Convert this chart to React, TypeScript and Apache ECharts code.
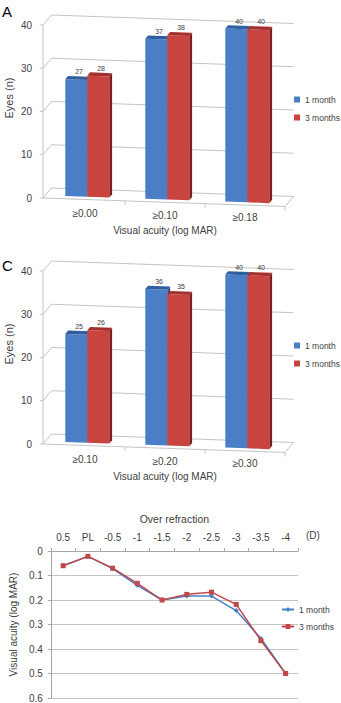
import React, { useEffect, useRef } from 'react';
import * as echarts from 'echarts';

// ---------- data ----------
const CATS_A = ['≥0.00', '≥0.10', '≥0.18'];
const CATS_C = ['≥0.10', '≥0.20', '≥0.30'];
const A_1M = [27, 37, 40];
const A_3M = [28, 38, 40];
const C_1M = [25, 36, 40];
const C_3M = [26, 35, 40];
const EYES_TICKS = [0, 10, 20, 30, 40];
const REFRACTION = ['0.5', 'PL', '-0.5', '-1', '-1.5', '-2', '-2.5', '-3', '-3.5', '-4'];
const VA_1M = [0.06, 0.022, 0.072, 0.14, 0.2, 0.184, 0.184, 0.243, 0.357, 0.5];
const VA_3M = [0.06, 0.022, 0.07, 0.132, 0.2, 0.177, 0.168, 0.218, 0.366, 0.5];
const SERIES_NAMES = ['1 month', '3 months'];
const LINE_KEYS = ['L1', 'L3'];

// ---------- style ----------
const FONT = '"Liberation Sans", Arial, sans-serif';
const TXT = '#404040';
const GRIDC = '#c4c4c4';
const BLUE = { front: '#4a7ec6', top: '#2f5f9f', side: '#2a4f85' };
const RED = { front: '#c9443f', top: '#a3302d', side: '#7a1f1d' };
const LINE_BLUE = '#4a7ec6';
const LINE_RED = '#c0474a';

// 3D geometry
const FL = 43;
const DX = 8.5;
const DY = 10;
const SLOPE = 0.035;
const D0 = 0.27;
const D1 = 0.6;
const BAR_W = 22;

const P = (x: number, y: number, d: number): number[] => [x + d * DX, y + SLOPE * (x - FL) - d * DY];

const gridRender = (params: any, api: any) => {
  const v = api.value(1);
  const y = api.coord([0, v])[1];
  const cs = params.coordSys;
  const xr = cs.x + cs.width;
  const ls = { stroke: GRIDC, lineWidth: 1, fill: 'none' };
  const children: any[] = [
    { type: 'polyline', shape: { points: [[FL, y], P(FL, y, 1), P(xr, y, 1)] }, style: ls },
    { type: 'line', shape: { x1: FL - 3, y1: y, x2: FL, y2: y }, style: ls },
  ];
  if (v === 0) {
    children.push({ type: 'line', shape: { x1: FL, y1: cs.y - 1, x2: FL, y2: y }, style: ls });
    children.push({ type: 'polyline', shape: { points: [[FL, y], P(xr, y, 0), P(xr, y, 1)] }, style: ls });
    for (let k = 1; k <= 3; k++) {
      const x = cs.x + (k * cs.width) / 3;
      const p = P(x, y, 0);
      children.push({ type: 'line', shape: { x1: p[0], y1: p[1], x2: p[0], y2: p[1] + 4 }, style: ls });
    }
  }
  return { type: 'group', children };
};

const barRender = (side: number, col: any) => (params: any, api: any) => {
  const idx = api.value(0);
  const v = api.value(1);
  const top = api.coord([idx, v]);
  const bot = api.coord([idx, 0]);
  const cx = top[0];
  const xL = side < 0 ? cx - BAR_W : cx;
  const xR = xL + BAR_W;
  const f = [P(xL, bot[1], D0), P(xR, bot[1], D0), P(xR, top[1], D0), P(xL, top[1], D0)];
  const t = [P(xL, top[1], D0), P(xR, top[1], D0), P(xR, top[1], D1), P(xL, top[1], D1)];
  const s = [P(xR, bot[1], D0), P(xR, bot[1], D1), P(xR, top[1], D1), P(xR, top[1], D0)];
  const lab = P((xL + xR) / 2, top[1], D1);
  return {
    type: 'group',
    children: [
      { type: 'polygon', shape: { points: s }, style: { fill: col.side } },
      { type: 'polygon', shape: { points: f }, style: { fill: col.front } },
      { type: 'polygon', shape: { points: t }, style: { fill: col.top } },
      {
        type: 'text',
        x: lab[0],
        y: lab[1] - 1,
        style: { text: String(v), fontSize: 7, fill: TXT, align: 'center', verticalAlign: 'bottom', fontFamily: FONT },
      },
    ],
  };
};

const catAxis = (gridIndex: number, cats: string[]) => ({
  type: 'category',
  gridIndex,
  data: cats,
  axisLine: { show: false },
  axisTick: { show: false },
  axisLabel: {
    margin: 10,
    interval: 0,
    formatter: (val: string, i: number) => `{p${i}|${val}}`,
    rich: {
      p0: { fontSize: 10, color: TXT, fontFamily: FONT, padding: [0, 0, 0, 0] },
      p1: { fontSize: 10, color: TXT, fontFamily: FONT, padding: [2, 0, 0, 0] },
      p2: { fontSize: 10, color: TXT, fontFamily: FONT, padding: [4, 0, 0, 0] },
    },
  },
  name: 'Visual acuity (log MAR)',
  nameLocation: 'middle',
  nameGap: 27,
  nameTextStyle: { fontSize: 10, color: TXT, fontFamily: FONT },
});

const eyesAxis = (gridIndex: number) => ({
  type: 'value',
  gridIndex,
  min: 0,
  max: 40,
  interval: 10,
  axisLine: { show: false },
  axisTick: { show: false },
  splitLine: { show: false },
  axisLabel: { margin: 13, fontSize: 10, color: TXT, fontFamily: FONT },
});

const barSeries = (gridIndex: number, v1: number[], v3: number[]) => [
  {
    type: 'custom',
    xAxisIndex: gridIndex,
    yAxisIndex: gridIndex,
    silent: true,
    z: 1,
    renderItem: gridRender,
    data: EYES_TICKS.map((v) => [0, v]),
    encode: { x: 0, y: 1 },
  },
  {
    type: 'custom',
    name: SERIES_NAMES[0],
    xAxisIndex: gridIndex,
    yAxisIndex: gridIndex,
    z: 2,
    itemStyle: { color: BLUE.front },
    renderItem: barRender(-1, BLUE),
    data: v1.map((v, i) => [i, v]),
    encode: { x: 0, y: 1 },
  },
  {
    type: 'custom',
    name: SERIES_NAMES[1],
    xAxisIndex: gridIndex,
    yAxisIndex: gridIndex,
    z: 3,
    itemStyle: { color: RED.front },
    renderItem: barRender(1, RED),
    data: v3.map((v, i) => [i, v]),
    encode: { x: 0, y: 1 },
  },
];

const barLegend = (top: number) => ({
  data: SERIES_NAMES,
  orient: 'vertical',
  left: 294,
  top,
  padding: 0,
  icon: 'rect',
  itemWidth: 6,
  itemHeight: 6,
  itemGap: 9,
  textStyle: { fontSize: 8.5, color: TXT, fontFamily: FONT },
});

const eyesTitle = (y: number) => ({
  type: 'text',
  x: 9,
  y,
  rotation: Math.PI / 2,
  style: { text: 'Eyes (n)', fontSize: 11, fill: TXT, fontFamily: FONT, align: 'center', verticalAlign: 'middle' },
});

export default function App() {
  const ref = useRef<HTMLDivElement>(null);
  useEffect(() => {
    if (!ref.current) return;
    const chart = echarts.init(ref.current, null, { renderer: 'svg' });
    const lineNameMap: Record<string, string> = { L1: SERIES_NAMES[0], L3: SERIES_NAMES[1] };
    chart.setOption({
      animation: false,
      backgroundColor: '#ffffff',
      textStyle: { fontFamily: FONT },
      title: [
        { text: 'A', left: 2, top: 4, padding: 0, textStyle: { fontSize: 15, fontWeight: 'normal', color: '#000', fontFamily: FONT } },
        { text: 'C', left: 2, top: 258, padding: 0, textStyle: { fontSize: 15, fontWeight: 'normal', color: '#000', fontFamily: FONT } },
      ],
      legend: [
        barLegend(95),
        barLegend(341),
        {
          data: LINE_KEYS,
          formatter: (n: string) => lineNameMap[n],
          orient: 'vertical',
          left: 281,
          top: 605,
          padding: 0,
          itemWidth: 12,
          itemHeight: 6,
          itemGap: 8,
          textStyle: { fontSize: 8.5, color: TXT, fontFamily: FONT },
        },
      ],
      grid: [
        { left: 45, top: 25, width: 240, height: 173 },
        { left: 45, top: 271, width: 240, height: 173 },
        { left: 40, top: 551, width: 258, height: 150 },
      ],
      xAxis: [
        catAxis(0, CATS_A),
        catAxis(1, CATS_C),
        {
          type: 'category',
          gridIndex: 2,
          position: 'top',
          data: REFRACTION,
          boundaryGap: true,
          axisLine: { lineStyle: { color: '#a6a6a6' } },
          axisTick: { show: true, length: 3, interval: 0, lineStyle: { color: '#a6a6a6' } },
          axisLabel: { margin: 9, interval: 0, fontSize: 10, color: TXT, fontFamily: FONT },
          name: 'Over refraction',
          nameLocation: 'middle',
          nameGap: 27,
          nameTextStyle: { fontSize: 10.5, color: TXT, fontFamily: FONT },
        },
      ],
      yAxis: [
        eyesAxis(0),
        eyesAxis(1),
        {
          type: 'value',
          gridIndex: 2,
          inverse: true,
          min: 0,
          max: 0.6,
          interval: 0.1,
          axisLine: { show: true, lineStyle: { color: '#a6a6a6' } },
          axisTick: { show: true, length: 3, lineStyle: { color: '#a6a6a6' } },
          splitLine: { lineStyle: { color: GRIDC } },
          axisLabel: { margin: 8, fontSize: 10, color: TXT, fontFamily: FONT },
          name: 'Visual acuity (log MAR)',
          nameLocation: 'middle',
          nameGap: 31,
          nameTextStyle: { fontSize: 10, color: TXT, fontFamily: FONT },
        },
      ],
      graphic: [
        eyesTitle(98),
        eyesTitle(344),
        { type: 'text', left: 306, top: 530, style: { text: '(D)', fontSize: 10, fill: TXT, fontFamily: FONT } },
      ],
      series: [
        ...barSeries(0, A_1M, A_3M),
        ...barSeries(1, C_1M, C_3M),
        {
          type: 'line',
          name: LINE_KEYS[0],
          xAxisIndex: 2,
          yAxisIndex: 2,
          data: VA_1M,
          symbol: 'diamond',
          symbolSize: 5,
          lineStyle: { width: 1.5, color: LINE_BLUE },
          itemStyle: { color: LINE_BLUE },
          z: 3,
        },
        {
          type: 'line',
          name: LINE_KEYS[1],
          xAxisIndex: 2,
          yAxisIndex: 2,
          data: VA_3M,
          symbol: 'rect',
          symbolSize: 5,
          lineStyle: { width: 1.5, color: LINE_RED },
          itemStyle: { color: LINE_RED },
          z: 4,
        },
      ],
    });
    return () => chart.dispose();
  }, []);
  return <div ref={ref} style={{ position: 'fixed', left: 0, top: 0, width: 341, height: 703 }} />;
}
